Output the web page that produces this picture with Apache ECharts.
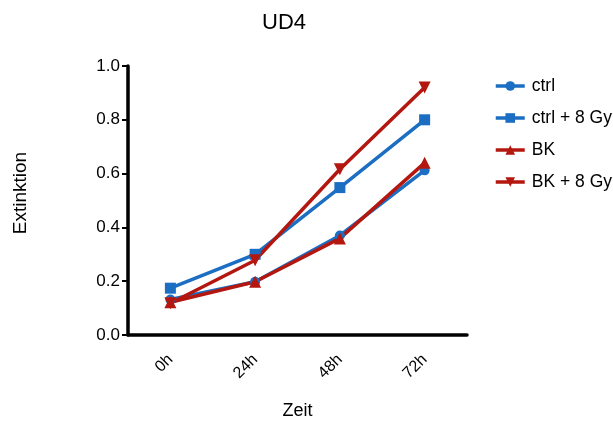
<!DOCTYPE html>
<html>
<head>
<meta charset="utf-8">
<script src="https://cdn.jsdelivr.net/npm/echarts@6/dist/echarts.min.js"></script>
<style>
  html, body { margin: 0; padding: 0; background: #fff; }
  #chart { width: 613px; height: 425px; }
</style>
</head>
<body>
<div id="chart"></div>
<script>
// Time points and absorbance readings per condition
const categories = ['0h', '24h', '48h', '72h'];
const ctrl = [0.132, 0.198, 0.370, 0.612];
const ctrl8Gy = [0.174, 0.300, 0.548, 0.800];
const bk = [0.122, 0.198, 0.359, 0.640];
const bk8Gy = [0.118, 0.278, 0.616, 0.920];
const yTicks = [0, 0.2, 0.4, 0.6, 0.8, 1.0];

const BLUE = '#1b6ec2';
const RED = '#b3170f';
const FONT = '"Liberation Sans", Arial, sans-serif';

function lineSeries(name, data, color, symbol, size, rotate) {
  return {
    name: name,
    type: 'line',
    data: data,
    symbol: symbol,
    symbolSize: size,
    symbolRotate: rotate || 0,
    lineStyle: { color: color, width: 3.5 },
    itemStyle: { color: color },
    z: 3
  };
}

const chart = echarts.init(document.getElementById('chart'), null, { renderer: 'canvas' });
chart.setOption({
  animation: false,
  backgroundColor: '#fff',
  title: {
    text: 'UD4',
    left: 257,
    top: 7,
    textStyle: { fontFamily: FONT, fontSize: 22, fontWeight: 'normal', color: '#000' }
  },
  graphic: [{
    type: 'text',
    x: 21,
    y: 193,
    rotation: Math.PI / 2,
    style: {
      text: 'Extinktion',
      fontFamily: FONT,
      fontSize: 19,
      fill: '#000',
      align: 'center',
      verticalAlign: 'middle'
    }
  }],
  legend: {
    orient: 'vertical',
    left: 489,
    top: 72,
    itemWidth: 29,
    itemHeight: 12,
    itemGap: 14,
    itemStyle: { borderWidth: 0 },
    lineStyle: { width: 3.5 },
    textStyle: { fontFamily: FONT, fontSize: 17.5, color: '#000', padding: [0, 0, 0, 2] },
    data: ['ctrl', 'ctrl + 8 Gy', 'BK', 'BK + 8 Gy']
  },
  grid: { left: 128, right: 146, top: 66, bottom: 87, containLabel: false },
  xAxis: {
    type: 'category',
    data: categories,
    boundaryGap: true,
    name: 'Zeit',
    nameLocation: 'middle',
    nameGap: 67,
    nameTextStyle: { fontFamily: FONT, fontSize: 18, color: '#000' },
    axisLine: { lineStyle: { color: '#000', width: 3.5 } },
    axisTick: { alignWithLabel: true, length: 8, lineStyle: { color: '#000', width: 3 } },
    axisLabel: {
      rotate: 45,
      margin: 22,
      fontFamily: FONT,
      fontSize: 16,
      color: '#000'
    },
    splitLine: { show: false }
  },
  yAxis: {
    type: 'value',
    min: yTicks[0],
    max: yTicks[yTicks.length - 1],
    interval: 0.2,
    axisLine: { show: true, lineStyle: { color: '#000', width: 3.5 } },
    axisTick: { show: true, length: 6, lineStyle: { color: '#000', width: 2 } },
    axisLabel: {
      margin: 8,
      fontFamily: FONT,
      fontSize: 17,
      color: '#000',
      formatter: v => v.toFixed(1)
    },
    splitLine: { show: false }
  },
  series: [
    lineSeries('ctrl', ctrl, BLUE, 'circle', 10),
    lineSeries('ctrl + 8 Gy', ctrl8Gy, BLUE, 'rect', 11),
    lineSeries('BK', bk, RED, 'triangle', 12),
    lineSeries('BK + 8 Gy', bk8Gy, RED, 'triangle', 12, 180)
  ]
});
</script>
</body>
</html>
